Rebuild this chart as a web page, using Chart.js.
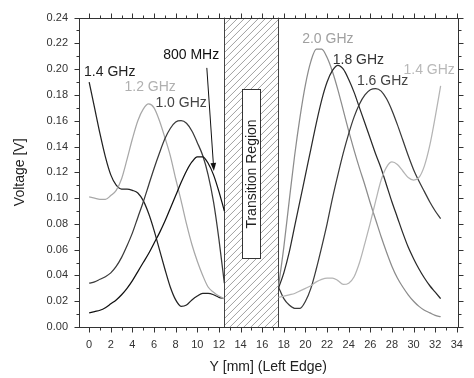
<!DOCTYPE html>
<html>
<head>
<meta charset="utf-8">
<script src="https://cdn.jsdelivr.net/npm/chart.js@4.4.1/dist/chart.umd.min.js"></script>
<style>
  html, body { margin: 0; padding: 0; background: #fff; }
</style>
</head>
<body>
<canvas id="chart" width="474" height="378"></canvas>
<script>
// Y positions [mm] on each side of the transition region
const leftPos = [0, 0.5, 1, 1.5, 2, 2.5, 3, 3.5, 4, 4.5, 5, 5.5, 6, 6.5, 7, 7.5, 8, 8.5, 9, 9.5, 10, 10.5, 11, 11.5, 12, 12.5];
const rightPos = [17.5, 18, 18.5, 19, 19.5, 20, 20.5, 21, 21.5, 22, 22.5, 23, 23.5, 24, 24.5, 25, 25.5, 26, 26.5, 27, 27.5, 28, 28.5, 29, 29.5, 30, 30.5, 31, 31.5, 32, 32.5];

// voltages [V], left side
const v800 = [0.011, 0.012, 0.013, 0.015, 0.018, 0.021, 0.025, 0.030, 0.036, 0.043, 0.050, 0.057, 0.065, 0.073, 0.082, 0.092, 0.102, 0.112, 0.121, 0.128, 0.132, 0.132, 0.127, 0.118, 0.105, 0.090];
const v1000 = [0.034, 0.035, 0.037, 0.039, 0.042, 0.047, 0.054, 0.063, 0.073, 0.085, 0.097, 0.110, 0.123, 0.135, 0.146, 0.154, 0.159, 0.160, 0.158, 0.152, 0.143, 0.133, 0.118, 0.097, 0.068, 0.034];
const v1200 = [0.101, 0.100, 0.099, 0.099, 0.102, 0.106, 0.115, 0.130, 0.146, 0.160, 0.169, 0.173, 0.170, 0.160, 0.147, 0.133, 0.115, 0.098, 0.080, 0.064, 0.051, 0.040, 0.031, 0.027, 0.024, 0.022];
const v1400L = [0.190, 0.170, 0.150, 0.132, 0.118, 0.110, 0.107, 0.107, 0.106, 0.104, 0.098, 0.088, 0.075, 0.060, 0.045, 0.031, 0.021, 0.016, 0.017, 0.021, 0.024, 0.026, 0.026, 0.025, 0.023, 0.022];

// voltages [V], right side
const v1400R = [0.023, 0.024, 0.025, 0.026, 0.028, 0.030, 0.032, 0.035, 0.037, 0.038, 0.038, 0.036, 0.033, 0.034, 0.039, 0.050, 0.065, 0.081, 0.098, 0.114, 0.124, 0.128, 0.126, 0.121, 0.116, 0.114, 0.116, 0.125, 0.141, 0.163, 0.187];
const v1600 = [0.031, 0.022, 0.017, 0.0145, 0.0145, 0.020, 0.030, 0.045, 0.062, 0.080, 0.100, 0.118, 0.135, 0.150, 0.163, 0.173, 0.180, 0.184, 0.185, 0.183, 0.177, 0.168, 0.157, 0.145, 0.133, 0.122, 0.113, 0.105, 0.097, 0.090, 0.084];
const v1800 = [0.030, 0.042, 0.058, 0.078, 0.098, 0.118, 0.138, 0.158, 0.176, 0.190, 0.199, 0.203, 0.200, 0.192, 0.182, 0.170, 0.158, 0.146, 0.134, 0.123, 0.110, 0.097, 0.085, 0.073, 0.062, 0.053, 0.045, 0.038, 0.032, 0.027, 0.022];
const v2000 = [0.031, 0.062, 0.098, 0.133, 0.163, 0.188, 0.206, 0.2155, 0.2155, 0.209, 0.198, 0.184, 0.168, 0.152, 0.137, 0.123, 0.110, 0.096, 0.083, 0.070, 0.058, 0.047, 0.038, 0.031, 0.025, 0.020, 0.016, 0.013, 0.011, 0.009, 0.008];

const xTicks = [0, 2, 4, 6, 8, 10, 12, 14, 16, 18, 20, 22, 24, 26, 28, 30, 32, 34];
const yTicks = [0, 0.02, 0.04, 0.06, 0.08, 0.10, 0.12, 0.14, 0.16, 0.18, 0.20, 0.22, 0.24];

const FONT = "'Liberation Sans', Arial, sans-serif";

// curve labels, placed in data units
const curveLabels = [
    { text: "1.4 GHz", x: 1.9, y: 0.198, color: "#222" },
    { text: "1.2 GHz", x: 5.64, y: 0.186, color: "#b0b0b0" },
    { text: "1.0 GHz", x: 8.5, y: 0.174, color: "#444" },
    { text: "800 MHz", x: 9.43, y: 0.211, color: "#111" },
    { text: "2.0 GHz", x: 22.07, y: 0.223, color: "#a0a0a0" },
    { text: "1.8 GHz", x: 24.9, y: 0.2067, color: "#333" },
    { text: "1.6 GHz", x: 27.13, y: 0.191, color: "#444" },
    { text: "1.4 GHz", x: 31.44, y: 0.199, color: "#b8b8b8" },
];

const toPoints = (xs, ys) => xs.map((x, i) => ({ x, y: ys[i] }));

function series(label, xs, ys, color) {
    return {
        label,
        data: toPoints(xs, ys),
        borderColor: color,
        borderWidth: 1.25,
        pointRadius: 0,
        fill: false,
        cubicInterpolationMode: "monotone",
    };
}

const overlay = {
    id: "overlay",
    beforeDatasetsDraw(chart) {
        const { ctx, chartArea: a, scales: { x, y } } = chart;
        const x0 = x.getPixelForValue(12.5);
        const x1 = x.getPixelForValue(17.5);
        ctx.save();
        ctx.beginPath();
        ctx.rect(x0, a.top, x1 - x0, a.bottom - a.top);
        ctx.clip();
        ctx.strokeStyle = "#8a8a8a";
        ctx.lineWidth = 0.8;
        const h = a.bottom - a.top;
        for (let s = x0 - h; s < x1 + 7; s += 7) {
            ctx.beginPath();
            ctx.moveTo(s, a.bottom);
            ctx.lineTo(s + h, a.top);
            ctx.stroke();
        }
        ctx.restore();

        ctx.save();
        ctx.strokeStyle = "#444";
        ctx.lineWidth = 1;
        [x0, x1].forEach((px) => {
            ctx.beginPath();
            ctx.moveTo(Math.round(px) + 0.5, a.top);
            ctx.lineTo(Math.round(px) + 0.5, a.bottom);
            ctx.stroke();
        });

        // "Transition Region" box
        const bx0 = Math.round(x.getPixelForValue(14.09)) + 0.5;
        const bx1 = Math.round(x.getPixelForValue(15.83)) + 0.5;
        const by0 = Math.round(y.getPixelForValue(0.1843)) + 0.5;
        const by1 = Math.round(y.getPixelForValue(0.0534)) + 0.5;
        ctx.fillStyle = "#fff";
        ctx.fillRect(bx0, by0, bx1 - bx0, by1 - by0);
        ctx.strokeStyle = "#333";
        ctx.strokeRect(bx0, by0, bx1 - bx0, by1 - by0);
        ctx.translate((bx0 + bx1) / 2, (by0 + by1) / 2);
        ctx.rotate(-Math.PI / 2);
        ctx.fillStyle = "#222";
        ctx.font = "14px " + FONT;
        ctx.textAlign = "center";
        ctx.textBaseline = "middle";
        ctx.fillText("Transition Region", 0, 1);
        ctx.restore();
    },
    afterDatasetsDraw(chart) {
        const { ctx, chartArea: a, scales: { x, y } } = chart;
        ctx.save();

        // frame
        ctx.strokeStyle = "#333";
        ctx.lineWidth = 1;
        const L = Math.round(a.left) + 0.5, R = Math.round(a.right) + 0.5;
        const T = Math.round(a.top) + 0.5, B = Math.round(a.bottom) + 0.5;
        ctx.strokeRect(L, T, R - L, B - T);

        // ticks, major and minor, outward on all four sides
        ctx.beginPath();
        for (let v = 0; v <= 34; v += 1) {
            const px = Math.round(x.getPixelForValue(v)) + 0.5;
            const len = v % 2 === 0 ? 5 : 3;
            ctx.moveTo(px, B); ctx.lineTo(px, B + len);
            ctx.moveTo(px, T); ctx.lineTo(px, T - len);
        }
        for (let i = 0; i <= 24; i++) {
            const py = Math.round(y.getPixelForValue(i / 100)) + 0.5;
            const len = i % 2 === 0 ? 5 : 3;
            ctx.moveTo(L, py); ctx.lineTo(L - len, py);
            ctx.moveTo(R, py); ctx.lineTo(R + len, py);
        }
        ctx.stroke();

        // curve labels
        ctx.font = "14px " + FONT;
        ctx.textAlign = "center";
        ctx.textBaseline = "middle";
        curveLabels.forEach((l) => {
            ctx.fillStyle = l.color;
            ctx.fillText(l.text, x.getPixelForValue(l.x), y.getPixelForValue(l.y));
        });

        // arrow pointing to the 800 MHz curve
        const ax0 = x.getPixelForValue(10.88), ay0 = y.getPixelForValue(0.201);
        const ax1 = x.getPixelForValue(11.53), ay1 = y.getPixelForValue(0.121);
        const ang = Math.atan2(ay1 - ay0, ax1 - ax0);
        ctx.strokeStyle = "#111";
        ctx.fillStyle = "#111";
        ctx.beginPath();
        ctx.moveTo(ax0, ay0);
        ctx.lineTo(ax1 - 6 * Math.cos(ang), ay1 - 6 * Math.sin(ang));
        ctx.stroke();
        ctx.beginPath();
        ctx.moveTo(ax1, ay1);
        ctx.lineTo(ax1 - 8 * Math.cos(ang) + 2.8 * Math.sin(ang), ay1 - 8 * Math.sin(ang) - 2.8 * Math.cos(ang));
        ctx.lineTo(ax1 - 8 * Math.cos(ang) - 2.8 * Math.sin(ang), ay1 - 8 * Math.sin(ang) + 2.8 * Math.cos(ang));
        ctx.closePath();
        ctx.fill();
        ctx.restore();
    },
};

new Chart(document.getElementById("chart"), {
    type: "line",
    data: {
        datasets: [
            series("800 MHz", leftPos, v800, "#111"),
            series("1.0 GHz", leftPos, v1000, "#3a3a3a"),
            series("1.2 GHz", leftPos, v1200, "#a8a8a8"),
            series("1.4 GHz", leftPos, v1400L, "#222"),
            series("1.4 GHz (right)", rightPos, v1400R, "#b4b4b4"),
            series("1.6 GHz", rightPos, v1600, "#3a3a3a"),
            series("1.8 GHz", rightPos, v1800, "#2a2a2a"),
            series("2.0 GHz", rightPos, v2000, "#8c8c8c"),
        ],
    },
    options: {
        responsive: false,
        animation: false,
        layout: { padding: { left: 0, right: 13, top: 17, bottom: 0 } },
        plugins: {
            legend: { display: false },
            tooltip: { enabled: false },
        },
        scales: {
            x: {
                type: "linear",
                min: -0.94,
                max: 34.06,
                afterBuildTicks: (s) => { s.ticks = xTicks.map((value) => ({ value })); },
                afterFit: (s) => { s.height = 51; },
                grid: { display: false, drawTicks: false },
                border: { display: false },
                ticks: {
                    autoSkip: false,
                    maxRotation: 0,
                    padding: 11,
                    color: "#333",
                    font: { family: FONT, size: 11 },
                },
                title: {
                    display: true,
                    text: "Y [mm] (Left Edge)",
                    color: "#222",
                    font: { family: FONT, size: 14 },
                    padding: { top: 0, bottom: 2 },
                },
            },
            y: {
                type: "linear",
                min: 0,
                max: 0.24,
                afterBuildTicks: (s) => { s.ticks = yTicks.map((value) => ({ value })); },
                afterFit: (s) => { s.width = 79; },
                grid: { display: false, drawTicks: false },
                border: { display: false },
                ticks: {
                    padding: 11,
                    color: "#333",
                    font: { family: FONT, size: 11 },
                    callback: (v) => v.toFixed(2),
                },
                title: {
                    display: true,
                    text: "Voltage [V]",
                    color: "#222",
                    font: { family: FONT, size: 14 },
                    padding: { top: 12, bottom: 0 },
                },
            },
        },
    },
    plugins: [overlay],
});
</script>
</body>
</html>
